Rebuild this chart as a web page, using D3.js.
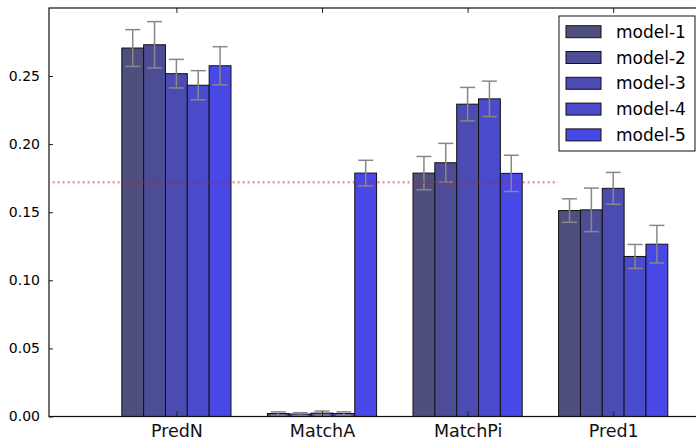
<!DOCTYPE html>
<html>
<head>
<meta charset="utf-8">
<script src="https://cdn.jsdelivr.net/npm/d3@7"></script>
<style>
  body { margin: 0; background: #fff; }
  svg { display: block; }
  .tick text { font-family: "DejaVu Sans", sans-serif; }
</style>
</head>
<body>
<div id="chart"></div>
<script>
// data
const categories = ['PredN', 'MatchA', 'MatchPi', 'Pred1'];
const models = ['model-1', 'model-2', 'model-3', 'model-4', 'model-5'];
const means = [
  [0.2705, 0.0022, 0.1787, 0.1512],   // model-1
  [0.2729, 0.0018, 0.1863, 0.1517],   // model-2
  [0.2517, 0.0025, 0.2293, 0.1675],   // model-3
  [0.2432, 0.0022, 0.2332, 0.1175],   // model-4
  [0.2575, 0.1787, 0.1785, 0.1265]    // model-5
];
const errors = [
  [0.0135, 0.0012, 0.0122, 0.0086],
  [0.0170, 0.0010, 0.0142, 0.0160],
  [0.0105, 0.0015, 0.0123, 0.0117],
  [0.0107, 0.0012, 0.0130, 0.0088],
  [0.0140, 0.0094, 0.0133, 0.0138]
];
const colors = ['#4f4f7e', '#4d4d96', '#4b4bb2', '#4a4acc', '#4848e6'];
const yTicks = [0, 0.05, 0.10, 0.15, 0.20, 0.25];
const baseline = 0.1719;
const baselineSpan = [-0.85, 2.62];

const W = 696, H = 438;
const margin = { left: 49, top: 8, bottom: 21 };
const barW = 0.15;

const svg = d3.select('#chart').append('svg')
  .attr('width', W)
  .attr('height', H);

const x = d3.scaleLinear()
  .domain([-0.875, 3.875])
  .range([margin.left, margin.left + 4.75 * 145.6]);
const y = d3.scaleLinear()
  .domain([0, 0.2999])
  .range([H - margin.bottom - 0.5, margin.top]);

const x0 = x.range()[0], x1 = x.range()[1];
const y0 = y.range()[0], y1 = y.range()[1];

// bars
const g = svg.append('g');
models.forEach((m, j) => {
  const off = (j - 2) * barW;
  g.selectAll(null)
    .data(categories.map((c, i) => ({ i: i, v: means[j][i], e: errors[j][i] })))
    .enter().append('rect')
      .attr('x', d => x(d.i + off - barW / 2))
      .attr('width', x(barW) - x(0))
      .attr('y', d => y(d.v))
      .attr('height', d => y(0) - y(d.v))
      .attr('fill', colors[j])
      .attr('stroke', '#111')
      .attr('stroke-width', 1);
});

// error bars
models.forEach((m, j) => {
  const off = (j - 2) * barW;
  const eg = g.append('g')
    .attr('stroke', '#888')
    .attr('stroke-width', 1.5)
    .attr('fill', 'none');
  categories.forEach((c, i) => {
    const cx = x(i + off);
    const hi = y(means[j][i] + errors[j][i]);
    const lo = y(means[j][i] - errors[j][i]);
    eg.append('line').attr('x1', cx).attr('x2', cx).attr('y1', hi).attr('y2', lo);
    eg.append('line').attr('x1', cx - 7.5).attr('x2', cx + 7.5).attr('y1', hi).attr('y2', hi);
    eg.append('line').attr('x1', cx - 7.5).attr('x2', cx + 7.5).attr('y1', lo).attr('y2', lo);
  });
});

// dotted reference line
svg.append('line')
  .attr('x1', x(baselineSpan[0]))
  .attr('x2', x(baselineSpan[1]))
  .attr('y1', y(baseline))
  .attr('y2', y(baseline))
  .attr('stroke', 'red')
  .attr('stroke-opacity', 0.45)
  .attr('stroke-width', 2.5)
  .attr('stroke-dasharray', '2,3');

// axes (ticks inside, matplotlib classic look)
const yAxis = svg.append('g')
  .attr('transform', 'translate(' + x0 + ',0)')
  .call(d3.axisLeft(y).tickValues(yTicks).tickFormat(d3.format('.2f'))
    .tickSizeInner(-4).tickSizeOuter(0).tickPadding(9));
yAxis.select('.domain').remove();
yAxis.selectAll('text').attr('font-size', 14).attr('fill', '#000');

const xAxis = svg.append('g')
  .attr('transform', 'translate(0,' + y0 + ')')
  .call(d3.axisBottom(x).tickValues(d3.range(categories.length))
    .tickFormat(i => categories[i]).tickSizeInner(-5).tickSizeOuter(0).tickPadding(8));
xAxis.select('.domain').remove();
xAxis.selectAll('text')
  .attr('font-family', '"Open Sans", sans-serif')
  .attr('font-size', 17.5)
  .attr('fill', '#111');

const topAxis = svg.append('g')
  .attr('transform', 'translate(0,' + y1 + ')')
  .call(d3.axisTop(x).tickValues(d3.range(categories.length))
    .tickFormat('').tickSizeInner(-5).tickSizeOuter(0));
topAxis.select('.domain').remove();

svg.selectAll('.tick line').attr('stroke', '#222');

// frame
svg.append('rect')
  .attr('x', x0).attr('y', y1)
  .attr('width', x1 - x0).attr('height', y0 - y1)
  .attr('fill', 'none')
  .attr('stroke', '#111')
  .attr('stroke-width', 1.2);

// legend
const lg = svg.append('g').attr('transform', 'translate(559,16)');
lg.append('rect')
  .attr('width', 136).attr('height', 135)
  .attr('fill', '#fff')
  .attr('stroke', '#111')
  .attr('stroke-width', 1);
const items = lg.selectAll('g.item')
  .data(models)
  .enter().append('g')
    .attr('class', 'item')
    .attr('transform', (d, j) => 'translate(0,' + (15.7 + j * 25.8) + ')');
items.append('rect')
  .attr('x', 7).attr('y', -6)
  .attr('width', 35).attr('height', 12)
  .attr('fill', (d, j) => colors[j])
  .attr('stroke', '#111')
  .attr('stroke-width', 1);
items.append('text')
  .attr('x', 57).attr('y', 6)
  .attr('font-family', '"DejaVu Sans", sans-serif')
  .attr('font-size', 17)
  .attr('fill', '#000')
  .text(d => d);
</script>
</body>
</html>
